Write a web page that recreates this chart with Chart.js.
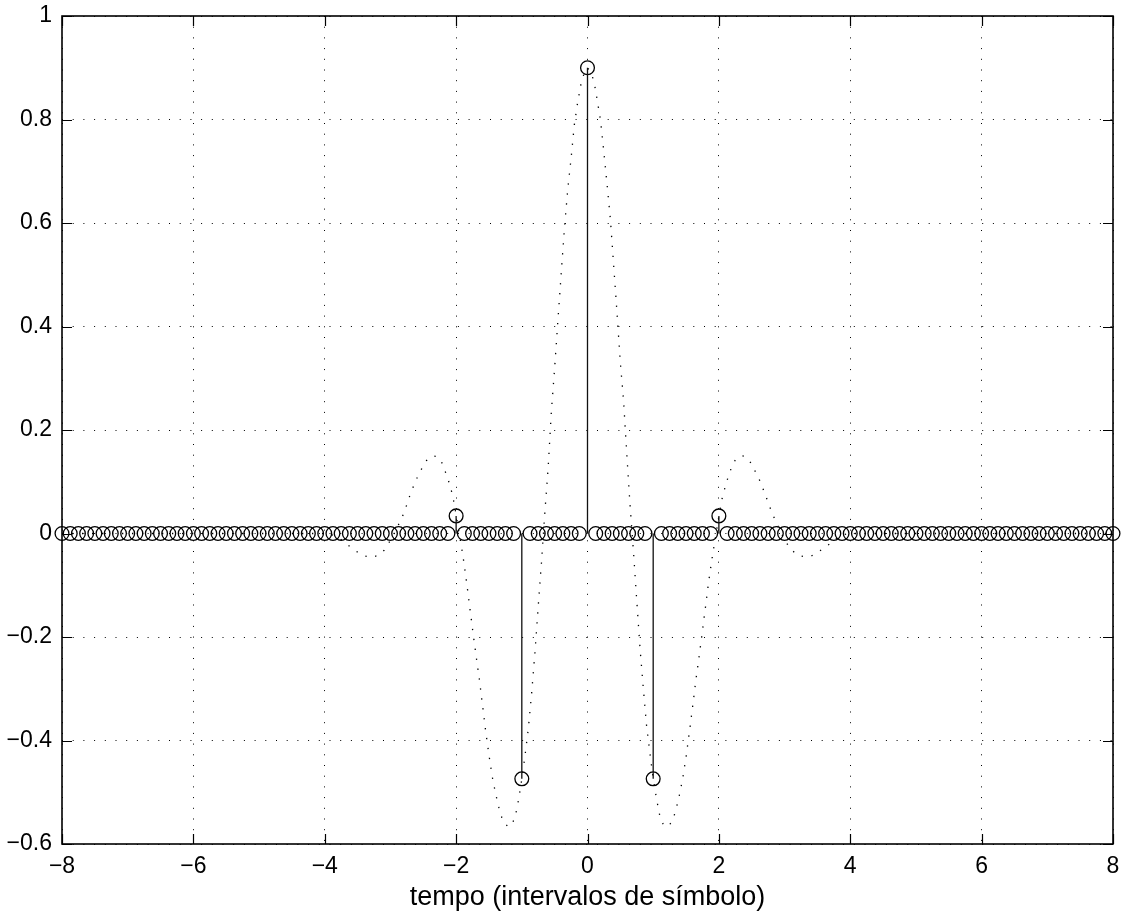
<!DOCTYPE html>
<html>
<head>
<meta charset="utf-8">
<script src="https://cdn.jsdelivr.net/npm/chart.js@4.4.1/dist/chart.umd.min.js"></script>
<style>
  html, body { margin: 0; padding: 0; background: #fff; }
  canvas { display: block; }
</style>
</head>
<body>
<canvas id="stemChart" width="1122" height="914"></canvas>
<script>
// samples, 8 per symbol interval, from -8 to 8 (one row per symbol)
const stemY = [
    0, 0, 0, 0, 0, 0, 0, 0,
    0, 0, 0, 0, 0, 0, 0, 0,
    0, 0, 0, 0, 0, 0, 0, 0,
    0, 0, 0, 0, 0, 0, 0, 0,
    0, 0, 0, 0, 0, 0, 0, 0,
    0, 0, 0, 0, 0, 0, 0, 0,
    0.034, 0, 0, 0, 0, 0, 0, 0,
    -0.474, 0, 0, 0, 0, 0, 0, 0,
    0.9, 0, 0, 0, 0, 0, 0, 0,
    -0.474, 0, 0, 0, 0, 0, 0, 0,
    0.034, 0, 0, 0, 0, 0, 0, 0,
    0, 0, 0, 0, 0, 0, 0, 0,
    0, 0, 0, 0, 0, 0, 0, 0,
    0, 0, 0, 0, 0, 0, 0, 0,
    0, 0, 0, 0, 0, 0, 0, 0,
    0, 0, 0, 0, 0, 0, 0, 0,
    0
];
const stemT = stemY.map((_, i) => -8 + i / 8);

// continuous pulse (dotted curve)
const curveT = [
    -8, -4, -3.9, -3.8, -3.7, -3.6, -3.5, -3.4, -3.3, -3.2, -3.1, -3.0,
    -2.95, -2.9, -2.85, -2.8, -2.75, -2.7, -2.65, -2.6, -2.55, -2.5,
    -2.45, -2.4, -2.35, -2.3, -2.25, -2.2, -2.15, -2.1, -2.05, -2.0,
    -1.95, -1.9, -1.85, -1.8, -1.75, -1.7, -1.65, -1.6, -1.55, -1.5,
    -1.45, -1.4, -1.35, -1.3, -1.25, -1.2, -1.15, -1.1, -1.05, -1.0,
    -0.95, -0.9, -0.85, -0.8, -0.75, -0.7, -0.65, -0.6, -0.55, -0.5,
    -0.45, -0.4, -0.35, -0.3, -0.25, -0.2, -0.15, -0.1, -0.05, 0,
    0.05, 0.1, 0.15, 0.2, 0.25, 0.3, 0.35, 0.4, 0.45, 0.5,
    0.55, 0.6, 0.65, 0.7, 0.75, 0.8, 0.85, 0.9, 0.95, 1.0,
    1.05, 1.1, 1.15, 1.2, 1.25, 1.3, 1.35, 1.4, 1.45, 1.5,
    1.55, 1.6, 1.65, 1.7, 1.75, 1.8, 1.85, 1.9, 1.95, 2.0,
    2.05, 2.1, 2.15, 2.2, 2.25, 2.3, 2.35, 2.4, 2.45, 2.5,
    2.55, 2.6, 2.65, 2.7, 2.75, 2.8, 2.85, 2.9, 2.95, 3.0,
    3.1, 3.2, 3.3, 3.4, 3.5, 3.6, 3.7, 3.8, 3.9, 4, 8
];
const curveY = [
    0, 0, -0.002, -0.007, -0.017, -0.027, -0.036, -0.043, -0.046, -0.043, -0.033, -0.013,
    -0.002, 0.011, 0.024, 0.038, 0.056, 0.075, 0.091, 0.106, 0.119, 0.131,
    0.141, 0.147, 0.150, 0.149, 0.144, 0.133, 0.114, 0.096, 0.072, 0.036,
    -0.003, -0.040, -0.085, -0.135, -0.185, -0.233, -0.278, -0.330, -0.382, -0.428,
    -0.470, -0.502, -0.529, -0.551, -0.562, -0.567, -0.562, -0.547, -0.515, -0.475,
    -0.428, -0.376, -0.308, -0.230, -0.140, -0.055, 0.040, 0.125, 0.236, 0.320,
    0.413, 0.503, 0.592, 0.666, 0.725, 0.790, 0.833, 0.868, 0.890, 0.900,
    0.892, 0.873, 0.836, 0.797, 0.735, 0.672, 0.605, 0.515, 0.425, 0.330,
    0.255, 0.150, 0.050, -0.035, -0.130, -0.222, -0.300, -0.372, -0.424, -0.474,
    -0.512, -0.545, -0.561, -0.567, -0.563, -0.553, -0.532, -0.505, -0.473, -0.432,
    -0.385, -0.335, -0.283, -0.237, -0.188, -0.138, -0.088, -0.045, -0.006, 0.034,
    0.068, 0.092, 0.113, 0.130, 0.142, 0.148, 0.150, 0.149, 0.143, 0.134,
    0.121, 0.109, 0.094, 0.077, 0.060, 0.043, 0.028, 0.014, 0.001, -0.013,
    -0.031, -0.042, -0.045, -0.044, -0.037, -0.028, -0.019, -0.008, -0.002, 0, 0
];

const xTickStep = 2;
const yTickStep = 0.2;
const xLabel = 'tempo (intervalos de símbolo)';

const FONT = "'Liberation Sans', Arial, Helvetica, sans-serif";
const TICK_LEN = 10;

function fmtTick(v) {
    const r = Math.round(v * 10) / 10;
    return r < 0 ? '\u2212' + Math.abs(r) : String(r);
}

// stems: (t,0) -> (t,y), broken by nulls
const stemLines = [];
stemT.forEach((t, i) => {
    stemLines.push({ x: t, y: 0 }, { x: t, y: stemY[i] }, { x: t, y: null });
});

// MATLAB style box with inward ticks on all four sides
const frameBox = {
    id: 'frameBox',
    afterDatasetsDraw(chart) {
        const { ctx, chartArea: a, scales } = chart;
        ctx.save();
        ctx.strokeStyle = '#000';
        ctx.lineWidth = 1.2;
        ctx.beginPath();
        scales.x.ticks.forEach(tk => {
            const px = Math.round(scales.x.getPixelForValue(tk.value)) + 0.5;
            ctx.moveTo(px, a.bottom); ctx.lineTo(px, a.bottom - TICK_LEN);
            ctx.moveTo(px, a.top); ctx.lineTo(px, a.top + TICK_LEN);
        });
        scales.y.ticks.forEach(tk => {
            const py = Math.round(scales.y.getPixelForValue(tk.value)) + 0.5;
            ctx.moveTo(a.left, py); ctx.lineTo(a.left + TICK_LEN, py);
            ctx.moveTo(a.right, py); ctx.lineTo(a.right - TICK_LEN, py);
        });
        ctx.stroke();
        ctx.lineWidth = 1.6;
        ctx.strokeRect(a.left, a.top, a.right - a.left, a.bottom - a.top);
        ctx.restore();
    }
};

Chart.defaults.font.family = FONT;
Chart.defaults.color = '#000';

new Chart(document.getElementById('stemChart'), {
    type: 'line',
    data: {
        datasets: [
            {
                label: 'pulse',
                data: curveT.map((t, i) => ({ x: t, y: curveY[i] })),
                borderColor: '#000',
                borderWidth: 1.3,
                borderDash: [1.3, 8.7],
                pointRadius: 0,
                tension: 0,
                fill: false
            },
            {
                label: 'stems',
                data: stemLines,
                borderColor: '#111',
                borderWidth: 1.3,
                pointRadius: 0,
                spanGaps: false,
                fill: false
            },
            {
                label: 'samples',
                data: stemT.map((t, i) => ({ x: t, y: stemY[i] })),
                showLine: false,
                pointStyle: 'circle',
                pointRadius: 6.9,
                pointBorderWidth: 1.3,
                pointBorderColor: '#000',
                pointBackgroundColor: 'rgba(0,0,0,0)',
                clip: false
            }
        ]
    },
    options: {
        responsive: false,
        animation: false,
        events: [],
        devicePixelRatio: 1,
        layout: { padding: { top: 16, right: 9, left: 0, bottom: 0 } },
        plugins: {
            legend: { display: false },
            tooltip: { enabled: false }
        },
        scales: {
            x: {
                type: 'linear',
                min: -8,
                max: 8,
                afterFit: s => {
                    s.height = 70;
                    s.paddingLeft = 0;
                    s.paddingRight = 0;
                },
                ticks: {
                    stepSize: xTickStep,
                    padding: 9,
                    maxRotation: 0,
                    font: { size: 23 },
                    callback: v => fmtTick(v)
                },
                grid: {
                    color: '#000',
                    lineWidth: 1,
                    drawTicks: false
                },
                border: { display: false, dash: [1, 9.7] },
                title: {
                    display: true,
                    text: xLabel,
                    font: { size: 27 },
                    padding: { top: 2, bottom: 0 }
                }
            },
            y: {
                type: 'linear',
                min: -0.6,
                max: 1,
                afterFit: s => {
                    s.width = 62;
                    s.paddingTop = 0;
                    s.paddingBottom = 0;
                },
                ticks: {
                    stepSize: yTickStep,
                    padding: 10,
                    font: { size: 23 },
                    callback: v => fmtTick(v)
                },
                grid: {
                    color: '#000',
                    lineWidth: 1,
                    drawTicks: false
                },
                border: { display: false, dash: [1, 9.7] }
            }
        }
    },
    plugins: [frameBox]
});
</script>
</body>
</html>
